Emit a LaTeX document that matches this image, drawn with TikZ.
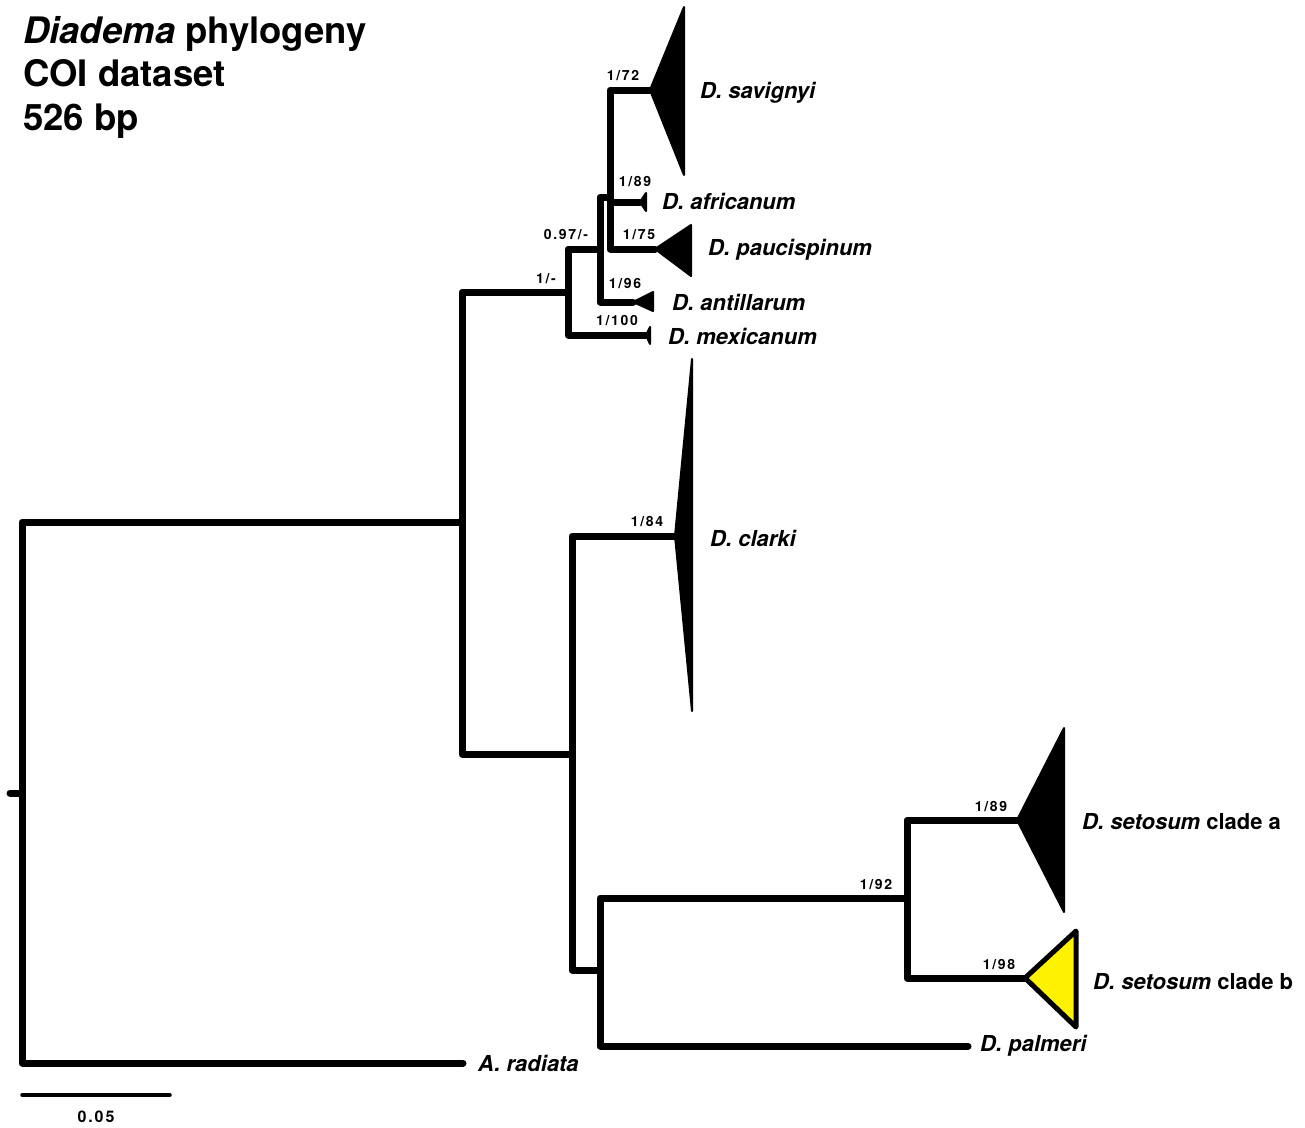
\documentclass[tikz,border=0pt]{standalone}
\usepackage{fontspec}
\setmainfont{TeX Gyre Heros}
\newfontfamily\supportfont[LetterSpace=12]{TeX Gyre Heros}
\begin{document}
\begin{tikzpicture}[x=1pt,y=-1pt,
  branch/.style={line width=7pt, line cap=round, line join=round},
  clade/.style={fill=black, draw=black, line width=2pt, line join=round},
  support/.style={font=\supportfont\bfseries\fontsize{14}{14}\selectfont, inner sep=0pt},
  taxon/.style={font=\bfseries\fontsize{22}{22}\selectfont, anchor=west, inner sep=0pt},
  heading/.style={font=\bfseries\fontsize{36.5}{36.5}\selectfont, anchor=base west, inner sep=0pt}]
\useasboundingbox (0,0) rectangle (1305,1127);

% title block
\node[heading] (t1) at (23,43)  {\textit{Diadema} phylogeny};
\node[heading] (t2) at (23,86)  {COI dataset};
\node[heading] (t3) at (23,130) {526 bp};

% internal nodes
\coordinate (rt)   at (10,793);
\coordinate (root) at (22,793);
\coordinate (n1) at (462,522);
\coordinate (n2) at (568,292);
\coordinate (n3) at (600,249);
\coordinate (n4) at (610,197);
\coordinate (n5) at (572,754);
\coordinate (n6) at (600,970);
\coordinate (n7) at (907,898);

% tips / clade apices
\coordinate (sav) at (650,90);
\coordinate (afr) at (640,202);
\coordinate (pau) at (655,249);
\coordinate (ant) at (633,302);
\coordinate (mex) at (646,335);
\coordinate (cla) at (675,536);
\coordinate (sea) at (1017,820);
\coordinate (seb) at (1025,978);
\coordinate (pal) at (968,1046);
\coordinate (rad) at (463,1063);

% branches
\draw[branch] (rt) -- (root);
\draw[branch] (root) |- (n1);
\draw[branch] (root) |- (rad);
\draw[branch] (n1) |- (n2);
\draw[branch] (n1) |- (n5);
\draw[branch] (n2) |- (n3);
\draw[branch] (n2) |- (mex);
\draw[branch] (n3) |- (n4);
\draw[branch] (n3) |- (ant);
\draw[branch] (n4) |- (sav);
\draw[branch] (n4) |- (afr);
\draw[branch] (n4) |- (pau);
\draw[branch] (n5) |- (cla);
\draw[branch] (n5) |- (n6);
\draw[branch] (n6) |- (n7);
\draw[branch] (n6) |- (pal);
\draw[branch] (n7) |- (sea);
\draw[branch] (n7) |- (seb);

% collapsed clades
\filldraw[clade] (sav) -- (684,7) -- (684,175) -- cycle;
\filldraw[clade] (afr) -- (646,193) -- (646,211) -- cycle;
\filldraw[clade] (pau) -- (691,225) -- (691,276) -- cycle;
\filldraw[clade] (ant) -- (653,292) -- (653,311) -- cycle;
\filldraw[clade] (mex) -- (650,327) -- (650,344) -- cycle;
\filldraw[clade] (cla) -- (692,359) -- (692,711) -- cycle;
\filldraw[clade] (sea) -- (1064,728) -- (1064,912) -- cycle;
\filldraw[fill=yellow, draw=black, line width=5pt, line join=round]
  (seb) -- (1076,931) -- (1076,1027) -- cycle;

% taxon labels
\node[taxon] (lsav) at (700,93)  {\textit{D. savignyi}};
\node[taxon] (lafr) at (662,201) {\textit{D. africanum}};
\node[taxon] (lpau) at (708,250) {\textit{D. paucispinum}};
\node[taxon] (lant) at (672,302) {\textit{D. antillarum}};
\node[taxon] (lmex) at (668,336) {\textit{D. mexicanum}};
\node[taxon] (lcla) at (710,538) {\textit{D. clarki}};
\node[taxon] (lsea) at (1082,822) {\textit{D. setosum} clade a};
\node[taxon] (lseb) at (1093,982) {\textit{D. setosum} clade b};
\node[taxon] (lpal) at (980,1046) {\textit{D. palmeri}};
\node[taxon] (lrad) at (478,1063) {\textit{A. radiata}};

% support values
\node[support] (s1) at (623,76)  {1/72};
\node[support] (s2) at (635,182) {1/89};
\node[support] (s3) at (566,235) {0.97/-};
\node[support] (s4) at (639,235) {1/75};
\node[support] (s5) at (546,279) {1/-};
\node[support] (s6) at (625,284) {1/96};
\node[support] (s7) at (617,321) {1/100};
\node[support] (s8) at (647,522) {1/84};
\node[support] (s9) at (876,885) {1/92};
\node[support] (s10) at (991,807) {1/89};
\node[support] (s11) at (999,965) {1/98};

% scale bar
\coordinate (sb0) at (22,1095);
\coordinate (sb1) at (170,1095);
\draw[line width=3.5pt, line cap=round] (sb0) -- (sb1);
\node[support, font=\supportfont\bfseries\fontsize{16}{16}\selectfont] (sbl) at (96,1117) {0.05};
\end{tikzpicture}
\end{document}
